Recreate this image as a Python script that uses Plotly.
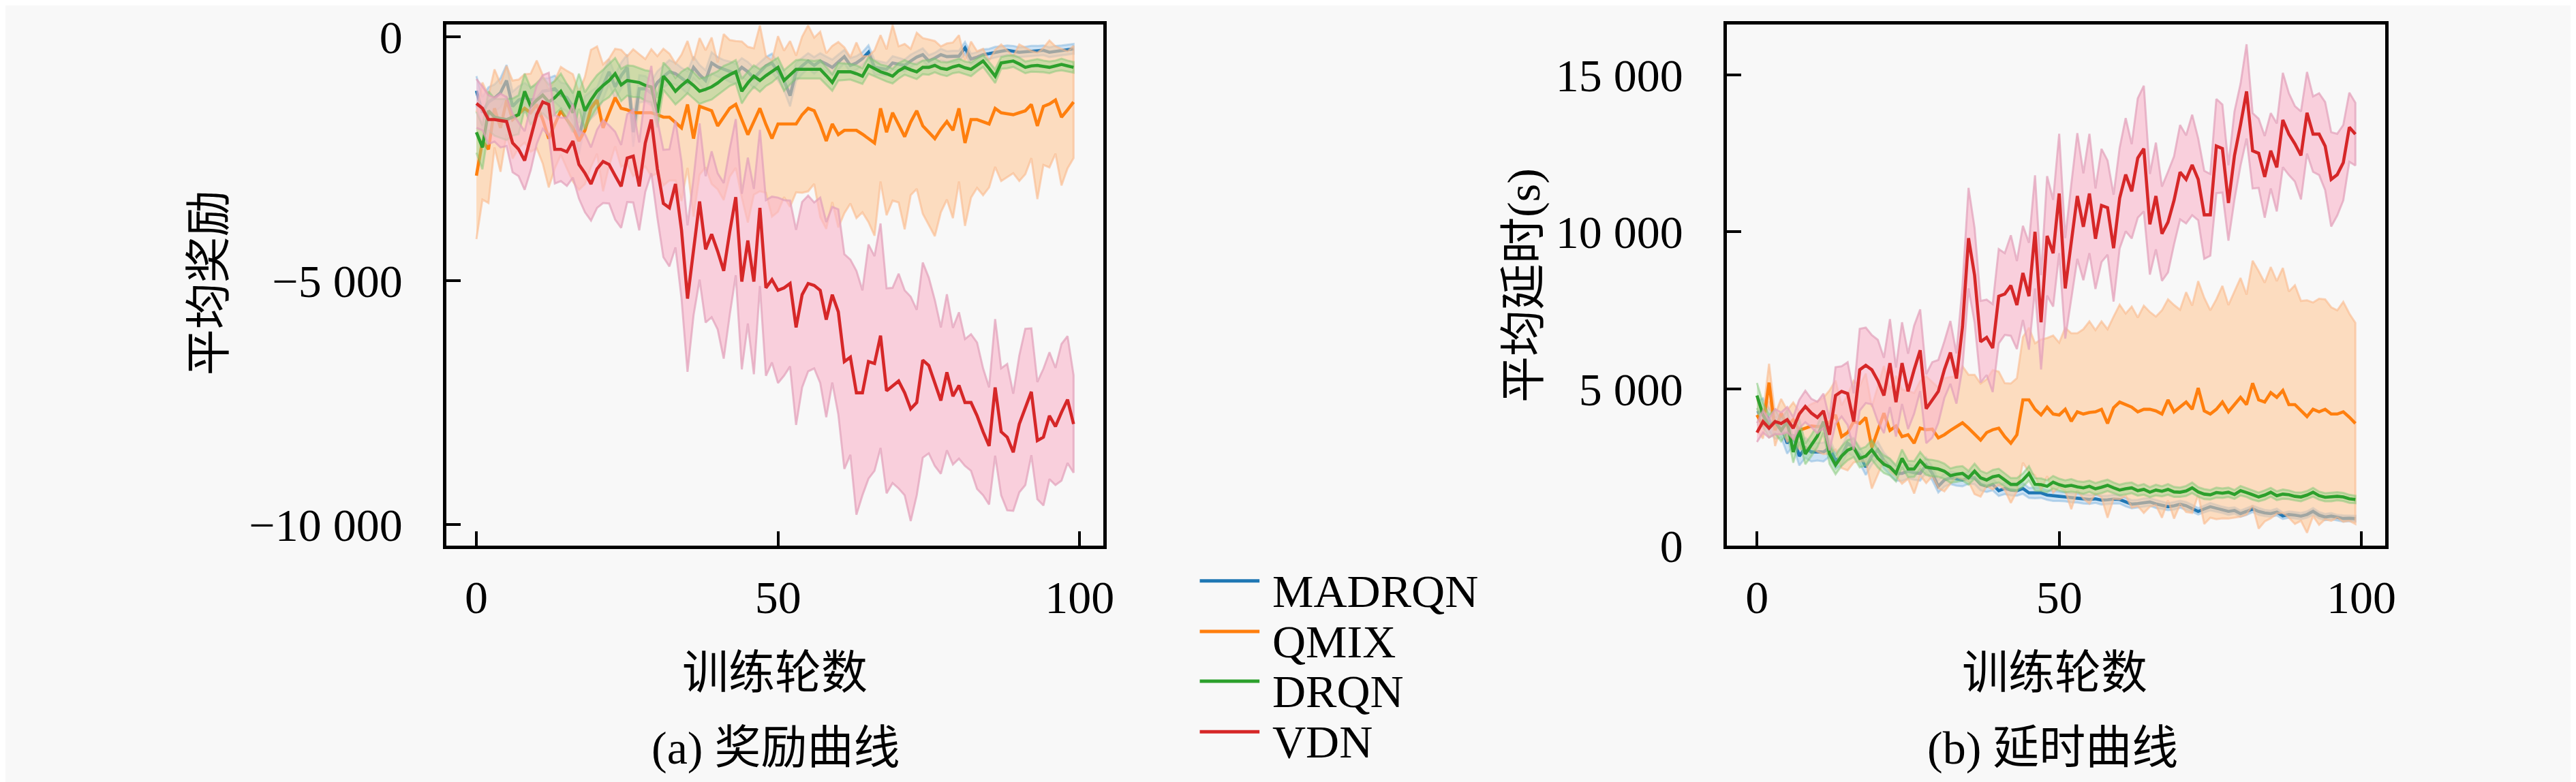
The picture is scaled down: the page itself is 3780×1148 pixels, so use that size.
import numpy as np
import plotly.graph_objects as go

W, H = 3780, 1148

epochs = list(range(100))
names = ["MADRQN", "QMIX", "DRQN", "VDN"]
line_colors = ["#1f77b4", "#ff7f0e", "#2ca02c", "#d62728"]
band_fill = ["rgba(150,200,240,0.45)", "rgba(255,200,150,0.58)",
             "rgba(150,215,140,0.45)", "rgba(250,182,204,0.62)"]
band_edge = ["rgba(120,175,220,0.45)", "rgba(250,185,140,0.6)",
             "rgba(120,195,110,0.45)", "rgba(225,160,185,0.7)"]

# ---- reward curves (mean / std) ----
reward_madrqn = [-1110, -1560, -1340, -1260, -1150, -900, -1430, -1300, -1250, -1300,
                 -1280, -1120, -1100, -1070, -1200, -1250, -1430, -2090, -1520, -1400,
                 -1300, -1000, -720, -1030, -800, -630, -1960, -1070, -1070, -1160,
                 -940, -820, -720, -760, -850, -940, -630, -780, -900, -540,
                 -620, -670, -720, -760, -630, -720, -850, -720, -600, -540,
                 -720, -900, -1210, -720, -600, -500, -590, -500, -560, -630,
                 -520, -410, -590, -540, -450, -320, -630, -650, -670, -540,
                 -560, -590, -500, -420, -370, -500, -440, -370, -410, -410,
                 -400, -230, -460, -420, -370, -350, -320, -300, -280, -300,
                 -320, -310, -300, -290, -280, -320, -300, -280, -270, -250]
reward_madrqn_std = [300, 320, 300, 280, 300, 320, 300, 280, 300, 260,
                     280, 260, 250, 270, 260, 280, 300, 320, 300, 280,
                     260, 280, 260, 250, 270, 260, 300, 280, 260, 250,
                     230, 220, 240, 220, 210, 230, 220, 200, 210, 220,
                     200, 190, 210, 200, 190, 200, 210, 190, 180, 190,
                     180, 200, 220, 190, 170, 160, 170, 160, 150, 160,
                     150, 140, 150, 140, 130, 140, 150, 140, 130, 140,
                     130, 120, 130, 120, 130, 120, 110, 120, 110, 120,
                     110, 120, 110, 100, 110, 100, 110, 100, 100, 110,
                     100, 100, 110, 100, 100, 100, 110, 100, 100, 100]

reward_qmix = [-2850, -2140, -2310, -1470, -1870, -1300, -1700, -1580, -1470, -1560,
               -1390, -1700, -2090, -1800, -1520, -1700, -1870, -2140, -1920, -1470,
               -1300, -1870, -1550, -1250, -1470, -1500, -1560, -1560, -1560, -1560,
               -1600, -1650, -1650, -1750, -1870, -1390, -2090, -1430, -1480, -1520,
               -1830, -1650, -1470, -1390, -1700, -2010, -1740, -1470, -1800, -2090,
               -1790, -1790, -1790, -1790, -1600, -1470, -1520, -1800, -2140, -1790,
               -2010, -1920, -1920, -1920, -2000, -2100, -2180, -1470, -1960, -1560,
               -1800, -2050, -1750, -1520, -1830, -1960, -2090, -1900, -1740, -1920,
               -1470, -2180, -1700, -1700, -1750, -1790, -1470, -1560, -1580, -1600,
               -1560, -1520, -1390, -1830, -1430, -1380, -1300, -1650, -1500, -1340]
reward_qmix_std = [1300, 1200, 1100, 800, 900, 700, 800, 700, 700, 800,
                   900, 900, 1000, 900, 900, 1000, 1100, 1000, 1100, 1200,
                   1100, 1300, 1100, 1000, 1200, 1100, 1300, 1200, 1100, 1300,
                   1200, 1400, 1300, 1200, 1500, 1300, 1600, 1400, 1200, 1500,
                   1300, 1700, 1400, 1300, 1600, 1800, 1500, 1700, 1400, 1600,
                   1800, 1500, 1700, 1400, 1600, 1700, 1500, 1900, 1800, 1600,
                   1900, 1700, 1500, 1800, 1600, 1700, 1900, 1500, 1700, 1800,
                   1600, 1900, 1500, 1600, 1800, 1900, 2000, 1700, 1600, 1800,
                   1500, 1700, 1600, 1400, 1500, 1300, 1200, 1400, 1300, 1200,
                   1400, 1300, 1100, 1500, 1200, 1300, 1100, 1400, 1200, 1150]

reward_drqn = [-1960, -2270, -1520, -1650, -1680, -1700, -1650, -1600, -1120, -1430,
               -1300, -1200, -1340, -1250, -1120, -1350, -1560, -1120, -1520, -1300,
               -1120, -1000, -900, -760, -990, -900, -920, -940, -1000, -1030,
               -1560, -810, -950, -1120, -1000, -900, -1000, -1120, -1080, -1030,
               -950, -850, -780, -720, -1120, -950, -810, -900, -800, -720,
               -630, -900, -780, -670, -670, -670, -680, -670, -800, -940,
               -720, -720, -720, -760, -810, -590, -650, -720, -760, -810,
               -700, -630, -680, -720, -630, -630, -590, -650, -670, -620,
               -590, -640, -670, -580, -500, -650, -810, -540, -520, -500,
               -560, -630, -600, -590, -610, -630, -600, -570, -600, -630]
reward_drqn_std = [420, 450, 400, 380, 400, 420, 380, 400, 360, 380,
                   350, 370, 360, 340, 360, 380, 400, 360, 380, 350,
                   330, 320, 340, 320, 330, 310, 320, 300, 310, 320,
                   300, 280, 290, 270, 280, 260, 270, 260, 250, 260,
                   240, 250, 230, 240, 250, 230, 220, 230, 210, 220,
                   200, 210, 200, 190, 200, 190, 180, 190, 180, 170,
                   180, 170, 160, 170, 160, 170, 160, 150, 160, 150,
                   160, 150, 140, 150, 140, 150, 140, 130, 140, 130,
                   140, 130, 140, 130, 120, 130, 140, 120, 130, 120,
                   130, 120, 120, 130, 120, 120, 110, 120, 110, 110]

reward_vdn = [-1370, -1470, -1700, -1700, -1720, -1740, -2180, -2310, -2540, -2090,
              -1600, -1340, -1390, -2310, -2310, -2360, -2140, -2620, -2800, -3020,
              -2710, -2560, -2620, -2850, -3070, -2490, -2450, -3070, -2180, -1700,
              -2710, -3420, -3510, -3020, -3960, -5370, -4310, -3380, -4360, -4050,
              -4400, -4800, -4000, -3290, -5020, -4180, -5020, -3510, -5150, -4980,
              -5200, -5150, -5060, -5960, -5290, -5060, -5100, -5200, -5800, -5290,
              -5640, -6660, -6570, -7300, -7300, -6660, -6700, -6130, -7260, -7150,
              -7060, -7300, -7630, -7500, -6630, -6740, -7100, -7460, -6880, -7370,
              -7150, -7500, -7500, -7770, -8100, -8390, -7190, -8100, -8210, -8520,
              -7940, -7590, -7280, -8280, -8210, -7770, -7990, -7700, -7440, -7940]
reward_vdn_std = [500, 450, 500, 450, 550, 500, 600, 550, 600, 650,
                  600, 550, 650, 700, 650, 700, 750, 700, 800, 750,
                  800, 850, 800, 900, 850, 900, 950, 900, 1000, 1100,
                  1000, 1100, 1200, 1300, 1400, 1500, 1400, 1600, 1500, 1700,
                  1600, 1800, 1700, 1600, 1800, 1700, 1900, 1600, 1800, 1700,
                  1900, 1800, 1700, 2000, 1900, 1800, 1700, 1900, 2000, 1800,
                  2100, 2200, 2000, 2500, 2100, 2400, 2200, 2300, 2100, 2000,
                  2200, 2100, 2300, 1900, 2000, 1800, 1700, 1500, 1600, 1400,
                  1500, 1300, 1400, 1500, 1300, 1200, 1400, 1300, 1500, 1200,
                  1400, 1600, 1300, 1200, 1400, 1300, 1200, 1400, 1300, 1000]

# ---- latency curves (mean / std) ----
delay_madrqn = [4230, 4300, 4020, 3750, 3820, 3270, 3540, 2860, 3130, 2990,
                3000, 2990, 3130, 2720, 2860, 3270, 3130, 2900, 2510, 2860,
                3060, 2720, 2510, 2310, 2310, 2380, 2330, 2310, 2580, 2310,
                1900, 2100, 2170, 2130, 2100, 2170, 2170, 1960, 1900, 1960,
                1760, 1830, 1780, 1760, 1830, 1690, 1690, 1690, 1620, 1590,
                1580, 1560, 1540, 1520, 1500, 1480, 1500, 1460, 1470, 1490,
                1480, 1400, 1330, 1350, 1380, 1400, 1340, 1300, 1250, 1280,
                1330, 1280, 1200, 1100, 1180, 1250, 1200, 1150, 1100, 1130,
                1030, 1100, 1180, 1100, 1050, 1030, 1080, 960, 1000, 980,
                950, 1000, 1100, 980, 920, 950, 900, 875, 880, 870]
delay_madrqn_std = [380, 400, 360, 340, 360, 330, 350, 300, 320, 300,
                    280, 300, 280, 260, 280, 300, 280, 260, 250, 270,
                    260, 250, 240, 230, 240, 230, 220, 230, 240, 220,
                    200, 210, 200, 210, 200, 190, 200, 190, 180, 190,
                    170, 180, 170, 160, 170, 160, 170, 160, 150, 160,
                    150, 140, 150, 140, 150, 140, 130, 140, 130, 140,
                    130, 140, 130, 120, 130, 120, 130, 120, 110, 120,
                    110, 120, 110, 100, 110, 120, 110, 100, 110, 100,
                    100, 110, 100, 110, 100, 100, 110, 100, 100, 100,
                    100, 100, 110, 100, 100, 100, 90, 100, 90, 90]

delay_qmix = [4170, 3820, 5200, 3680, 4230, 3820, 4020, 3680, 3750, 3820,
              3800, 3820, 3950, 4170, 3480, 3610, 3960, 3900, 4090, 3130,
              3680, 4230, 3680, 3820, 3480, 3540, 3270, 3750, 3700, 3720,
              3440, 3540, 3680, 3800, 3920, 3750, 3550, 3370, 3610, 3700,
              3750, 3480, 3270, 3540, 4650, 4650, 4350, 4170, 4420, 4200,
              4170, 4350, 3970, 4270, 4200, 4250, 4270, 4350, 3900, 4400,
              4580, 4500, 4420, 4270, 4350, 4350, 4300, 4200, 4650, 4270,
              4420, 4580, 4350, 5030, 4300, 4200, 4350, 4580, 4270, 4500,
              4730, 4500, 5180, 4650, 4580, 4880, 4730, 4950, 4500, 4500,
              4300, 4120, 4350, 4270, 4350, 4200, 4200, 4270, 4100, 3900]
delay_qmix_std = [500, 400, 600, 500, 450, 500, 550, 600, 650, 700,
                  800, 900, 1000, 1100, 1000, 1200, 1300, 1200, 1400, 1300,
                  1400, 1500, 1300, 1600, 1500, 1400, 1600, 1500, 1700, 1500,
                  1600, 1800, 1700, 1600, 1800, 1700, 1900, 1800, 1700, 1900,
                  1800, 1700, 1900, 1800, 2000, 2300, 2100, 2400, 2200, 2500,
                  2300, 2600, 2800, 2500, 2700, 2900, 2600, 2800, 3000, 2900,
                  3100, 2900, 3200, 3000, 3300, 3100, 3000, 3300, 3200, 3400,
                  3100, 3500, 3300, 3400, 3600, 3300, 3500, 3700, 3400, 3600,
                  3800, 3500, 3900, 4100, 3800, 4000, 3700, 3900, 3600, 3800,
                  3500, 3700, 3400, 3600, 3500, 3400, 3300, 3500, 3300, 3200]

delay_drqn = [4790, 4170, 3820, 3960, 3680, 3960, 2990, 3680, 2930, 3200,
              3500, 3960, 2930, 2580, 2860, 3050, 3130, 2790, 2860, 3060,
              2790, 2600, 2510, 2310, 2790, 2450, 2450, 2720, 2510, 2480,
              2450, 2380, 2240, 2280, 2310, 2170, 2380, 2170, 2100, 2200,
              2240, 2100, 1960, 1960, 2100, 2310, 1960, 1950, 1900, 2030,
              1950, 1900, 1930, 1880, 1850, 1900, 1820, 1870, 1930, 1850,
              1780, 1820, 1850, 1760, 1800, 1710, 1780, 1740, 1800, 1720,
              1710, 1750, 1850, 1720, 1650, 1630, 1700, 1680, 1710, 1640,
              1760, 1700, 1620, 1560, 1620, 1710, 1600, 1650, 1630, 1580,
              1560, 1620, 1710, 1600, 1550, 1560, 1580, 1560, 1500, 1480]
delay_drqn_std = [400, 380, 360, 380, 350, 370, 340, 360, 330, 340,
                  350, 360, 320, 300, 310, 320, 300, 290, 300, 310,
                  290, 280, 270, 260, 280, 260, 250, 270, 250, 260,
                  250, 240, 230, 240, 230, 220, 240, 220, 210, 220,
                  220, 210, 200, 200, 210, 230, 200, 200, 190, 200,
                  190, 190, 200, 180, 190, 180, 180, 190, 180, 170,
                  170, 180, 170, 160, 170, 160, 170, 160, 170, 160,
                  150, 160, 170, 150, 160, 150, 160, 150, 150, 140,
                  150, 140, 150, 140, 150, 140, 140, 150, 140, 130,
                  140, 130, 140, 130, 130, 140, 130, 130, 130, 120]

delay_vdn = [3610, 3960, 3750, 3960, 3900, 4020, 3750, 4200, 4440, 4230,
             4090, 4300, 3540, 4790, 4920, 4850, 3960, 5610, 5750, 5610,
             5260, 4790, 5820, 4580, 5820, 4920, 5610, 6230, 4370, 4650,
             4920, 5610, 6160, 5330, 6970, 9800, 8620, 6500, 6640, 6300,
             7950, 8020, 8290, 7670, 8690, 7950, 10000, 7120, 9870, 9320,
             11220, 8200, 9710, 11140, 10160, 11220, 9780, 10840, 10770, 9480,
             11070, 11820, 11290, 12350, 12650, 10240, 11140, 9940, 10310, 11000,
             11900, 11670, 12130, 11670, 10540, 10540, 12730, 12650, 10920, 12430,
             13410, 14470, 12580, 12500, 11750, 12580, 12050, 13560, 13110, 12800,
             12430, 13790, 13110, 13110, 12730, 11670, 11820, 12200, 13330, 13110]
delay_vdn_std = [300, 350, 300, 400, 350, 400, 350, 450, 500, 450,
                 500, 550, 500, 900, 800, 1000, 900, 1300, 1200, 1100,
                 1300, 1200, 1400, 1100, 1300, 1200, 1400, 1300, 1100, 1200,
                 1000, 900, 1000, 800, 1300, 1600, 1500, 1300, 1200, 1400,
                 1500, 1300, 1600, 1400, 1500, 1700, 1800, 1500, 1900, 1700,
                 1900, 1600, 1800, 2000, 1700, 1900, 1600, 1800, 1500, 1700,
                 1600, 1800, 1500, 1900, 2000, 1600, 1700, 1500, 1600, 1400,
                 1500, 1400, 1600, 1300, 1400, 1300, 1500, 1400, 1200, 1400,
                 1300, 1500, 1200, 1100, 1300, 1200, 1400, 1500, 1300, 1200,
                 1400, 1300, 1200, 1300, 1400, 1500, 1300, 1200, 1100, 1000]

reward_means = [reward_madrqn, reward_qmix, reward_drqn, reward_vdn]
reward_stds = [reward_madrqn_std, reward_qmix_std, reward_drqn_std, reward_vdn_std]
delay_means = [delay_madrqn, delay_qmix, delay_drqn, delay_vdn]
delay_stds = [delay_madrqn_std, delay_qmix_std, delay_drqn_std, delay_vdn_std]

reward_ticks = [-10000, -5000, 0]
reward_ticktext = ["\u221210 000", "\u22125 000", "0"]
delay_ticks = [0, 5000, 10000, 15000]
delay_ticktext = ["0", "5 000", "10 000", "15 000"]
epoch_ticks = [0, 50, 100]

FONT = "Liberation Serif, Noto Sans CJK SC, serif"
FS = 68
BG = "#f8f8f8"
TXT_DY = 16  # annotations render a little high; push them down


def px_x(v):
    return v / W


def px_y(v):
    return 1 - v / H


fig = go.Figure()

panels = [("x", "y", reward_means, reward_stds),
          ("x2", "y2", delay_means, delay_stds)]
for xa, ya, means, stds in panels:
    for i in range(4):
        m = np.array(means[i], dtype=float)
        s = np.array(stds[i], dtype=float)
        up = m + s
        lo = m - s
        fig.add_trace(go.Scatter(
            x=epochs + epochs[::-1], y=list(up) + list(lo[::-1]),
            fill="toself", fillcolor=band_fill[i],
            line=dict(color=band_edge[i], width=3),
            xaxis=xa, yaxis=ya, hoverinfo="skip", showlegend=False))
        fig.add_trace(go.Scatter(
            x=epochs, y=means[i], mode="lines", name=names[i],
            line=dict(color=line_colors[i], width=4.6),
            xaxis=xa, yaxis=ya, showlegend=False))

axis_common = dict(
    showgrid=False, zeroline=False, showline=True, linecolor="black",
    linewidth=5, mirror=True, ticks="inside", ticklen=21, tickwidth=4,
    tickcolor="black", tickfont=dict(family=FONT, size=FS, color="black"),
    ticklabeloverflow="allow",
)

x_dom_a = [px_x(650), px_x(1618)]
x_dom_b = [px_x(2537), px_x(3507)]
y_dom = [px_y(816), px_y(10)]

fig.update_layout(
    width=W, height=H,
    paper_bgcolor=BG, plot_bgcolor=BG,
    margin=dict(l=0, r=0, t=0, b=0),
    font=dict(family=FONT, size=FS, color="black"),
    xaxis=dict(domain=x_dom_a, range=[-4.95, 103.95], tickvals=epoch_ticks,
               anchor="y", ticklabelstandoff=12, **axis_common),
    yaxis=dict(domain=y_dom, range=[-10440, 255], tickvals=reward_ticks,
               ticktext=reward_ticktext, anchor="x", ticklabelstandoff=46,
               **axis_common),
    xaxis2=dict(domain=x_dom_b, range=[-4.95, 103.95], tickvals=epoch_ticks,
                anchor="y2", ticklabelstandoff=12, **axis_common),
    yaxis2=dict(domain=y_dom, range=[0, 16610], tickvals=delay_ticks,
                ticktext=delay_ticktext, anchor="x2", ticklabelstandoff=46,
                **axis_common),
)

annotations = [
    dict(text="平均奖励", x=px_x(300), y=px_y(410), textangle=-90),
    dict(text="训练轮数", x=px_x(1134), y=px_y(996 + TXT_DY)),
    dict(text="(a) 奖励曲线", x=px_x(1135), y=px_y(1112 + TXT_DY)),
    dict(text="平均延时(s)", x=px_x(2238), y=px_y(414), textangle=-90),
    dict(text="训练轮数", x=px_x(3020), y=px_y(996 + TXT_DY)),
    dict(text="(b) 延时曲线", x=px_x(3017), y=px_y(1112 + TXT_DY)),
]
for a in annotations:
    a.update(xref="paper", yref="paper", showarrow=False,
             xanchor="center", yanchor="middle",
             font=dict(family=FONT, size=FS, color="black"))

# legend drawn between the two panels
legend_y = [870, 948, 1025, 1103]
shapes = []
for i in range(4):
    shapes.append(dict(type="line", xref="paper", yref="paper",
                       x0=px_x(1760), x1=px_x(1848),
                       y0=px_y(legend_y[i]), y1=px_y(legend_y[i]),
                       line=dict(color=line_colors[i], width=5)))
    annotations.append(dict(text=names[i], xref="paper", yref="paper",
                            x=px_x(1865), y=px_y(legend_y[i] + TXT_DY),
                            xanchor="left", yanchor="middle", showarrow=False,
                            font=dict(family=FONT, size=FS, color="black")))

fig.update_layout(annotations=annotations, shapes=shapes)

fig.write_html("out.html")
